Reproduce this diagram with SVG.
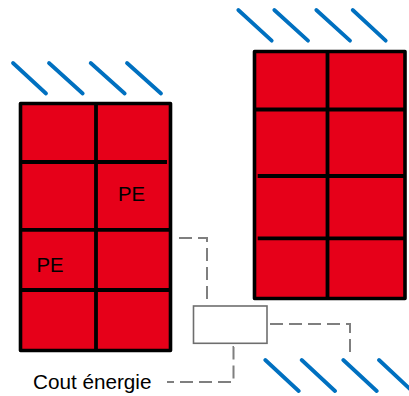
<svg xmlns="http://www.w3.org/2000/svg" width="409" height="396" viewBox="0 0 409 396">
<style>
.panel{fill:#e60019;stroke:#000;stroke-width:3.6;stroke-linejoin:round}
.grid{stroke:#000;stroke-width:3.8;fill:none}
.sun{stroke:#0070c0;stroke-width:3.8;stroke-linecap:round;fill:none}
.dash{stroke:#7f7f7f;stroke-width:2;fill:none;stroke-dasharray:13 6}
.box{fill:#fff;stroke:#6e6e6e;stroke-width:1.6}
text{font-family:"Liberation Sans",Arial,sans-serif;fill:#000}
</style>
<g id="panel-left">
<rect class="panel" x="20.500" y="103.500" width="150" height="247"/>
<path class="grid" d="M96 104V350M21 162H167M21 229.800H170M21 290H170"/>
<text x="118" y="201" font-size="20.300">PE</text>
<text x="36.500" y="272" font-size="20.300">PE</text>
</g>
<g id="panel-right">
<rect class="panel" x="254.500" y="51.500" width="150.500" height="247"/>
<path class="grid" d="M327.500 52V298M255 109.500H405M257.700 176H405M257.700 238.300H405"/>
</g>
<g id="sun-left">
<path class="sun" d="M13 63L46 93.500M49 63L82.700 93.500M90.700 63L124.700 93.500M127 63L161 93.500"/>
</g>
<g id="sun-right">
<path class="sun" d="M238.300 10L271.700 40.700M274.300 10L308 40.700M316.300 10L350 40.700M352.700 10L385.700 40.700"/>
</g>
<g id="sun-bottom">
<path class="sun" d="M265.300 360L298.700 391M301.700 360L335 391M343.300 360L376.700 391M379 360L412 391"/>
</g>
<g id="controller">
<rect class="box" x="193.500" y="306" width="73.500" height="37.300"/>
</g>
<g id="connectors">
<path class="dash" d="M179 238H207V303"/>
<path class="dash" d="M270 324H350V358"/>
<path class="dash" d="M234 347H233.500V382H167"/>
</g>
<g id="label">
<text x="33" y="389" font-size="20.700">Cout énergie</text>
</g>
</svg>
